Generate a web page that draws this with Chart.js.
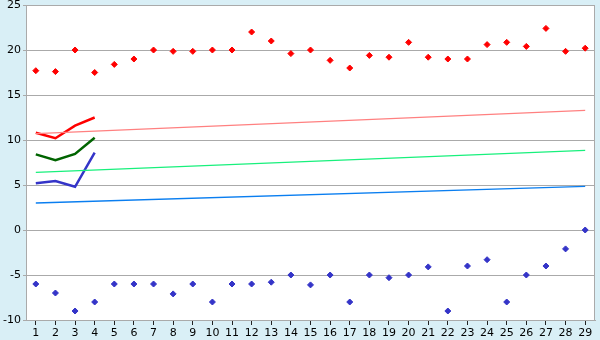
<!DOCTYPE html>
<html lang="en">
<head>
    <meta charset="UTF-8">
    <title>Chart</title>
    <style>
        body {
            margin: 0;
            background: #d9eff6;
        }
        canvas {
            display: block;
        }
    </style>
    <script src="https://cdn.jsdelivr.net/npm/chart.js"></script>
</head>
<body>
    <canvas id="chart" width="600" height="340"></canvas>

    <script>
        const categories = ['1', '2', '3', '4', '5', '6', '7', '8', '9', '10', '11', '12', '13', '14', '15',
            '16', '17', '18', '19', '20', '21', '22', '23', '24', '25', '26', '27', '28', '29'];

        const highPoints = [17.7, 17.6, 20, 17.5, 18.4, 19, 20, 19.85, 19.85, 20, 20, 22, 21, 19.6, 20,
            18.85, 18, 19.4, 19.2, 20.85, 19.2, 19, 19, 20.6, 20.85, 20.4, 22.4, 19.85, 20.2];
        const lowPoints = [-6, -7, -9, -8, -6, -6, -6, -7.1, -6, -8, -6, -6, -5.8, -5, -6.1,
            -5, -8, -5, -5.3, -5, -4.1, -9, -4, -3.3, -8, -5, -4, -2.1, 0];

        // short lines over the first four categories
        const redLine = [10.8, 10.2, 11.6, 12.5];
        const greenLine = [8.4, 7.75, 8.45, 10.25];
        const blueLine = [5.2, 5.45, 4.8, 8.6];

        // trend lines: value at first and last category
        const trendEnds = ['1', '29'];
        const pinkTrend = [10.7, 13.3];
        const lightGreenTrend = [6.4, 8.85];
        const lightBlueTrend = [3.0, 4.85];

        const yTicks = [-10, -5, 0, 5, 10, 15, 20, 25];

        function ends(values) {
            return values.map((v, i) => ({ x: trendEnds[i], y: v }));
        }

        const plotFrame = {
            id: 'plotFrame',
            beforeDraw(chart) {
                const a = chart.chartArea;
                const ctx = chart.ctx;
                ctx.save();
                ctx.fillStyle = '#ffffff';
                ctx.fillRect(a.left, a.top, a.right - a.left, a.bottom - a.top);
                ctx.restore();
            },
            afterDraw(chart) {
                const a = chart.chartArea;
                const ctx = chart.ctx;
                ctx.save();
                ctx.strokeStyle = '#aaaaaa';
                ctx.lineWidth = 1;
                ctx.strokeRect(a.left + 0.5, a.top + 0.5, a.right - a.left - 1, a.bottom - a.top);
                ctx.restore();
            }
        };

        const lineStyle = (color, width) => ({
            type: 'line',
            borderColor: color,
            backgroundColor: color,
            borderWidth: width,
            pointRadius: 0,
            tension: 0,
            fill: false
        });

        const pointStyle = (color) => ({
            type: 'line',
            showLine: false,
            borderColor: color,
            backgroundColor: color,
            pointStyle: 'rectRot',
            pointRadius: 3,
            pointBorderWidth: 1
        });

        new Chart(document.getElementById('chart'), {
            data: {
                labels: categories,
                datasets: [
                    Object.assign({ data: ends(pinkTrend) }, lineStyle('#ff8080', 1.3)),
                    Object.assign({ data: ends(lightGreenTrend) }, lineStyle('#18f07c', 1.3)),
                    Object.assign({ data: ends(lightBlueTrend) }, lineStyle('#0a7ef0', 1.3)),
                    Object.assign({ data: redLine }, lineStyle('#ff0000', 2.5)),
                    Object.assign({ data: greenLine }, lineStyle('#006400', 2.5)),
                    Object.assign({ data: blueLine }, lineStyle('#3434c8', 2.5)),
                    Object.assign({ data: highPoints }, pointStyle('#ff0000')),
                    Object.assign({ data: lowPoints }, pointStyle('#3434c8'))
                ]
            },
            options: {
                responsive: false,
                animation: false,
                layout: { padding: { top: 5, right: 5, left: 0, bottom: 0 } },
                plugins: {
                    legend: { display: false },
                    tooltip: { enabled: false }
                },
                scales: {
                    x: {
                        type: 'category',
                        offset: true,
                        afterFit(scale) {
                            scale.height = 20;
                            scale.paddingLeft = 0;
                            scale.paddingRight = 0;
                        },
                        grid: {
                            offset: false,
                            drawOnChartArea: false,
                            drawTicks: true,
                            tickLength: 5,
                            color: '#222222'
                        },
                        border: { display: true, color: '#aaaaaa' },
                        ticks: {
                            autoSkip: false,
                            maxRotation: 0,
                            padding: 2,
                            color: '#000000',
                            font: { family: 'DejaVu Sans', size: 11 }
                        }
                    },
                    y: {
                        min: -10,
                        max: 25,
                        afterFit(scale) {
                            scale.width = 26;
                            scale.paddingTop = 0;
                            scale.paddingBottom = 0;
                        },
                        afterBuildTicks(scale) { scale.ticks = yTicks.map(v => ({ value: v })); },
                        grid: {
                            color: '#aaaaaa',
                            tickLength: 3
                        },
                        border: { display: true, color: '#aaaaaa' },
                        ticks: {
                            padding: 2,
                            color: '#000000',
                            font: { family: 'DejaVu Sans', size: 11 }
                        }
                    }
                }
            },
            plugins: [plotFrame]
        });
    </script>
</body>
</html>
